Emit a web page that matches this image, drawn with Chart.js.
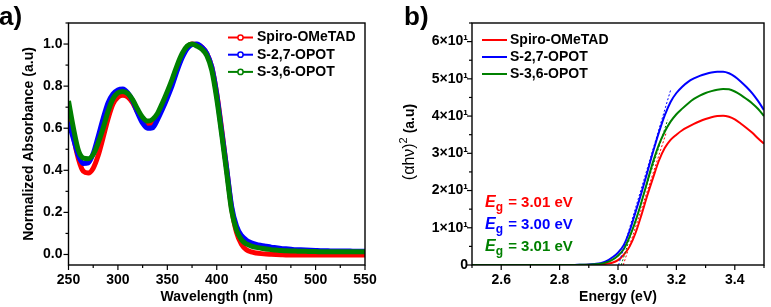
<!DOCTYPE html>
<html>
<head>
<meta charset="utf-8">
<script src="https://cdn.jsdelivr.net/npm/chart.js@4.4.0/dist/chart.umd.min.js"></script>
<style>
  html, body { margin: 0; padding: 0; background: #fff; }
  #wrap { position: relative; width: 771px; height: 307px; overflow: hidden; }
  canvas { position: absolute; top: 0; }
  #absChart { left: 0; }
  #taucChart { left: 390px; }
</style>
</head>
<body>
<div id="wrap">
  <canvas id="absChart" width="390" height="307"></canvas>
  <canvas id="taucChart" width="381" height="307"></canvas>
</div>
<script>
// ---- data ----
const seriesNames = ['Spiro-OMeTAD', 'S-2,7-OPOT', 'S-3,6-OPOT'];
const seriesColors = ['#ff0000', '#0000ff', '#008000'];

// panel a: normalized absorbance
const wavelength = [250,255,260,265,270,275,280,285,290,295,300,305,310,315,320,325,330,335,340,345,
  350,355,360,365,370,375,380,385,390,395,400,405,410,415,420,425,430,435,440,445,
  450,455,460,465,470,475,480,485,490,495,500,505,510,515,520,525,530,535,540,545,550];
const absSpiro = [0.70,0.56,0.455,0.395,0.387,0.41,0.47,0.555,0.645,0.715,0.748,0.757,0.748,0.72,0.675,0.638,0.618,0.618,0.65,0.70,
  0.755,0.815,0.885,0.945,0.985,1.0,0.998,0.985,0.955,0.89,0.765,0.595,0.41,0.22,0.105,0.048,0.022,0.012,0.007,0.004,
  0.002,0.001,0.0,-0.001,-0.002,-0.002,-0.002,-0.002,-0.002,-0.002,-0.002,-0.002,-0.002,-0.002,-0.002,-0.002,-0.002,-0.002,-0.002,-0.002,-0.002];
const absS27 = [0.63,0.55,0.47,0.432,0.435,0.48,0.56,0.645,0.72,0.762,0.782,0.786,0.768,0.73,0.672,0.624,0.600,0.602,0.64,0.69,
  0.745,0.805,0.875,0.935,0.978,0.998,1.0,0.985,0.955,0.89,0.76,0.585,0.41,0.23,0.135,0.09,0.068,0.056,0.048,0.043,
  0.039,0.035,0.032,0.029,0.027,0.025,0.023,0.022,0.021,0.020,0.019,0.018,0.018,0.017,0.017,0.016,0.016,0.016,0.015,0.015,0.015];
const absS36 = [0.73,0.60,0.495,0.458,0.455,0.475,0.53,0.60,0.68,0.74,0.768,0.775,0.765,0.735,0.69,0.652,0.634,0.642,0.67,0.72,
  0.775,0.835,0.90,0.955,0.99,1.0,0.99,0.975,0.945,0.875,0.74,0.57,0.39,0.21,0.115,0.07,0.05,0.04,0.034,0.03,
  0.026,0.023,0.021,0.019,0.018,0.017,0.016,0.015,0.015,0.014,0.014,0.013,0.013,0.013,0.013,0.013,0.013,0.013,0.013,0.013,0.013];

// panel b: Tauc plot, (alpha h nu)^2
const energy = [2.50,2.52,2.54,2.56,2.58,2.60,2.62,2.64,2.66,2.68,2.70,2.72,2.74,2.76,2.78,2.80,2.82,2.84,
  2.86,2.88,2.90,2.92,2.94,2.96,2.98,3.00,3.02,3.04,3.06,3.08,3.10,3.12,3.14,3.16,3.18,3.20,
  3.22,3.24,3.26,3.28,3.30,3.32,3.34,3.36,3.38,3.40,3.42,3.44,3.46,3.48,3.50];
const taucSpiro = [0,0,0,0,0,0,0,0,0,0,0,0,0,0,0,0,0,0,
  0.02,0.03,0.05,0.1,0.2,0.35,0.6,1.3,2.8,5.0,8.6,13.4,18.6,23.4,28.0,31.4,33.6,35.0,
  36.2,37.1,37.9,38.6,39.2,39.7,40.0,40.1,39.8,39.1,38.0,36.8,35.5,34.0,32.6];
const taucS27 = [0,0,0,0,0,0,0,0,0,0,0,0,0,0,0,0,0,0,
  0.05,0.08,0.15,0.3,0.5,1.0,2.0,3.3,5.4,9.2,14.2,19.3,24.8,30.4,35.6,40.2,43.8,46.2,
  47.9,49.2,50.1,50.8,51.3,51.7,51.9,51.9,51.5,50.6,49.3,47.8,46.1,44.0,41.6];
const taucS36 = [0,0,0,0,0,0,0,0,0,0,0,0,0,0,0,0,0,0,
  0.03,0.05,0.1,0.2,0.35,0.7,1.4,2.5,4.3,7.6,11.8,16.8,22.3,27.7,32.3,35.8,38.5,40.5,
  42.0,43.4,44.6,45.5,46.2,46.7,47.1,47.3,47.2,46.6,45.7,44.6,43.4,41.9,40.0];

// linear fits to the absorption edge
const fitStartE = [3.018, 3.002, 3.011];
const fitEndE = [3.165, 3.181, 3.170];
const fitEndY = [35.5, 47.2, 39.0];
const bandGaps = ['3.01', '3.00', '3.01'];

// ---- common style ----
const family = '"Liberation Sans", Arial, Helvetica, sans-serif';
Chart.defaults.font.family = family;
Chart.defaults.color = '#000';

function pts(xs, ys) { return xs.map((x, i) => ({ x: x, y: ys[i] })); }

// outward major/minor ticks plus a closed frame
const frameTicks = {
  id: 'frameTicks',
  afterDraw(chart) {
    const ctx = chart.ctx, a = chart.chartArea;
    ctx.save();
    ctx.strokeStyle = '#000';
    ctx.lineWidth = 1.2;
    ['x', 'y'].forEach(id => {
      const s = chart.scales[id];
      s.ticks.forEach(t => {
        const len = t.label !== '' ? 5 : 3;
        const p = s.getPixelForValue(t.value);
        ctx.beginPath();
        if (id === 'x') { ctx.moveTo(p, a.bottom); ctx.lineTo(p, a.bottom + len); }
        else { ctx.moveTo(a.left - len, p); ctx.lineTo(a.left, p); }
        ctx.stroke();
      });
    });
    ctx.lineWidth = 1.4;
    ctx.strokeRect(a.left, a.top, a.right - a.left, a.bottom - a.top);
    ctx.restore();
  }
};

function isStep(v, step) { return Math.abs(v / step - Math.round(v / step)) < 1e-6; }

// ---- panel a ----
const absDecor = {
  id: 'absDecor',
  afterDraw(chart) {
    const ctx = chart.ctx;
    ctx.save();
    ctx.fillStyle = '#000';
    ctx.font = 'bold 26px ' + family;
    ctx.textBaseline = 'alphabetic';
    ctx.fillText('a)', -1, 25);
    ctx.font = 'bold 14px ' + family;
    ctx.textBaseline = 'middle';
    seriesNames.forEach((name, i) => {
      const y = 37.5 + i * 17.2;
      ctx.strokeStyle = seriesColors[i];
      ctx.lineWidth = 2;
      ctx.beginPath(); ctx.moveTo(228, y); ctx.lineTo(253, y); ctx.stroke();
      ctx.beginPath(); ctx.arc(240.5, y, 2.6, 0, Math.PI * 2);
      ctx.fillStyle = '#fff'; ctx.fill();
      ctx.lineWidth = 1.5; ctx.stroke();
      ctx.fillStyle = '#000';
      ctx.fillText(name, 257, y);
    });
    ctx.restore();
  }
};

const absSeries = [absSpiro, absS27, absS36];
new Chart(document.getElementById('absChart'), {
  type: 'line',
  data: {
    datasets: absSeries.map((ys, i) => ({
      label: seriesNames[i],
      data: pts(wavelength, ys),
      borderColor: seriesColors[i],
      backgroundColor: seriesColors[i],
      borderWidth: 5,
      pointRadius: 0,
      cubicInterpolationMode: 'monotone',
      order: 2 - i
    }))
  },
  options: {
    responsive: false,
    animation: false,
    layout: { padding: { left: 0, top: 23, right: 25, bottom: 0 } },
    plugins: { legend: { display: false }, tooltip: { enabled: false } },
    scales: {
      x: {
        type: 'linear', min: 250, max: 550,
        grid: { display: false, drawTicks: false }, border: { display: false },
        ticks: {
          stepSize: 25, autoSkip: false, maxRotation: 0, padding: 7,
          font: { size: 14, weight: 'bold' },
          callback: v => isStep(v, 50) ? String(v) : ''
        },
        title: { display: true, text: 'Wavelength (nm)', font: { size: 14, weight: 'bold' }, padding: { top: 0, bottom: 1 } },
        afterFit: s => { s.height = 42; }
      },
      y: {
        type: 'linear', min: -0.05, max: 1.1,
        grid: { display: false, drawTicks: false }, border: { display: false },
        ticks: {
          stepSize: 0.1, includeBounds: false, autoSkip: false, padding: 6,
          font: { size: 14, weight: 'bold' },
          callback: v => isStep(v, 0.2) ? v.toFixed(1) : ''
        },
        title: { display: true, text: 'Normalized Absorbance (a.u)', font: { size: 14, weight: 'bold' }, padding: { top: 21, bottom: 0 } },
        afterFit: s => { s.width = 68.5; }
      }
    }
  },
  plugins: [frameTicks, absDecor]
});

// ---- panel b ----
const taucDecor = {
  id: 'taucDecor',
  afterDraw(chart) {
    const ctx = chart.ctx;
    ctx.save();
    ctx.fillStyle = '#000';
    ctx.font = 'bold 26px ' + family;
    ctx.textBaseline = 'alphabetic';
    ctx.fillText('b)', 14, 25);

    // legend
    ctx.font = 'bold 14px ' + family;
    ctx.textBaseline = 'middle';
    seriesNames.forEach((name, i) => {
      const y = 40 + i * 17;
      ctx.strokeStyle = seriesColors[i];
      ctx.lineWidth = 2;
      ctx.beginPath(); ctx.moveTo(92, y); ctx.lineTo(117, y); ctx.stroke();
      ctx.fillStyle = '#000';
      ctx.fillText(name, 120, y);
    });

    // band gap labels
    bandGaps.forEach((eg, i) => {
      const y = 203 + i * 22;
      let x = 95;
      ctx.fillStyle = seriesColors[i];
      ctx.font = 'italic bold 16px ' + family;
      ctx.fillText('E', x, y);
      x += ctx.measureText('E').width;
      ctx.font = 'bold 12px ' + family;
      ctx.fillText('g', x, y + 5);
      x += ctx.measureText('g').width + 1;
      ctx.font = 'bold 15px ' + family;
      ctx.fillText(' = ' + eg + ' eV', x, y);
    });

    // y title with superscript
    ctx.translate(20, 142);
    ctx.rotate(-Math.PI / 2);
    ctx.fillStyle = '#000';
    const parts = [
      { t: '(\u03b1h\u03bd)', f: '16px ' + family, dy: 0 },
      { t: '2', f: '11px ' + family, dy: -6 },
      { t: ' (a.u)', f: 'bold 14px ' + family, dy: 0 }
    ];
    let w = 0;
    parts.forEach(p => { ctx.font = p.f; w += ctx.measureText(p.t).width; });
    let x = -w / 2;
    parts.forEach(p => { ctx.font = p.f; ctx.fillText(p.t, x, p.dy); x += ctx.measureText(p.t).width; });
    ctx.restore();
  }
};

const taucSeries = [taucSpiro, taucS27, taucS36];
const taucSets = taucSeries.map((ys, i) => ({
  label: seriesNames[i],
  data: pts(energy, ys),
  borderColor: seriesColors[i],
  borderWidth: 2,
  pointRadius: 0,
  cubicInterpolationMode: 'monotone',
  order: 5 - i
}));
const fitSets = fitStartE.map((e0, i) => ({
  label: seriesNames[i] + ' fit',
  data: [{ x: e0, y: 0 }, { x: fitEndE[i], y: fitEndY[i] }],
  borderColor: seriesColors[i],
  borderWidth: 1,
  borderDash: [2, 2],
  pointRadius: 0,
  order: 0
}));

new Chart(document.getElementById('taucChart'), {
  type: 'line',
  data: { datasets: taucSets.concat(fitSets) },
  options: {
    responsive: false,
    animation: false,
    layout: { padding: { left: 0, top: 23, right: 3, bottom: 0 } },
    plugins: { legend: { display: false }, tooltip: { enabled: false } },
    scales: {
      x: {
        type: 'linear', min: 2.5, max: 3.5,
        grid: { display: false, drawTicks: false }, border: { display: false },
        ticks: {
          stepSize: 0.1, autoSkip: false, maxRotation: 0, padding: 7,
          font: { size: 14, weight: 'bold' },
          callback: v => (isStep(v, 0.2) && v > 2.55 && v < 3.45) ? v.toFixed(1) : ''
        },
        title: { display: true, text: 'Energy (eV)', font: { size: 14, weight: 'bold' }, padding: { top: 0, bottom: 1 } },
        afterFit: s => { s.height = 42; }
      },
      y: {
        type: 'linear', min: 0, max: 65,
        grid: { display: false, drawTicks: false }, border: { display: false },
        ticks: {
          stepSize: 5, autoSkip: false, padding: 4,
          font: { size: 14, weight: 'bold' },
          callback: v => isStep(v, 10) ? (v === 0 ? '0' : (v / 10) + '\u00d710\u00b9') : ''
        },
        title: { display: false },
        afterFit: s => { s.width = 82; }
      }
    }
  },
  plugins: [frameTicks, taucDecor]
});
</script>
</body>
</html>
